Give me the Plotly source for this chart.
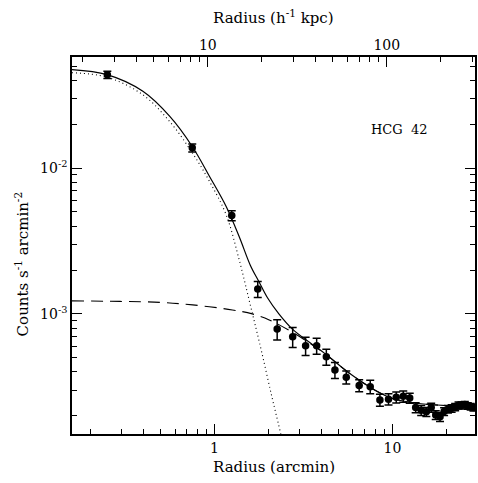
import plotly.graph_objects as go

# ---- data ----
radius_arcmin = [0.25, 0.75, 1.25, 1.75, 2.25, 2.75, 3.25, 3.75, 4.25, 4.75,
                 5.5, 6.5, 7.5, 8.5, 9.5, 10.5, 11.5, 12.5, 13.5, 14.5,
                 15.5, 16.5, 17.5, 18.5, 19.5, 20.5, 21.5, 22.5, 23.5, 24.5,
                 25.5, 26.5, 27.5, 28.5]
counts = [0.0436, 0.01377, 0.00473, 0.00148, 7.88e-4, 6.98e-4, 6.05e-4, 6.05e-4, 5.09e-4, 4.13e-4,
          3.68e-4, 3.23e-4, 3.17e-4, 2.57e-4, 2.60e-4, 2.68e-4, 2.72e-4, 2.65e-4, 2.28e-4, 2.18e-4,
          2.13e-4, 2.28e-4, 2.03e-4, 1.97e-4, 2.14e-4, 2.22e-4, 2.25e-4, 2.30e-4, 2.36e-4, 2.36e-4,
          2.39e-4, 2.34e-4, 2.31e-4, 2.28e-4]
counts_err = [0.0025, 0.00087, 0.00037, 1.86e-4, 1.25e-4, 1.10e-4, 8.6e-5, 7.6e-5, 6.4e-5, 5.2e-5,
              3.8e-5, 3.1e-5, 3.4e-5, 2.4e-5, 2.3e-5, 2.3e-5, 2.4e-5, 2.1e-5, 1.8e-5, 1.7e-5,
              1.5e-5, 1.6e-5, 1.4e-5, 1.4e-5, 1.3e-5, 1.3e-5, 1.3e-5, 1.3e-5, 1.3e-5, 1.3e-5,
              1.2e-5, 1.2e-5, 1.2e-5, 1.2e-5]

# total model (solid)
total_r = [0.158, 0.249, 0.396, 0.561, 0.750, 0.938, 1.163, 1.379, 1.589, 1.784, 1.985,
           2.3, 2.73, 3.5, 4.21, 5.68, 8.17, 10.0, 13.97, 20.55, 29.5]
total_y = [0.0473, 0.0437, 0.0336, 0.0226, 0.01406, 0.00876, 0.00545, 0.00337, 0.00216, 0.00165, 0.00129,
           1.0e-3, 7.9e-4, 6.25e-4, 5.3e-4, 3.95e-4, 2.95e-4, 2.63e-4, 2.43e-4, 2.35e-4, 2.33e-4]

# central component (dotted)
core_r = [0.158, 0.249, 0.396, 0.561, 0.750, 0.938, 1.163, 1.379, 1.589, 1.830, 2.109, 2.358, 2.45]
core_y = [0.0451, 0.0420, 0.0318, 0.0208, 0.01274, 0.0081, 0.00478, 0.00233, 0.001153, 5.66e-4,
          2.65e-4, 1.50e-4, 1.2e-4]

# extended component (dashed)
ext_r = [0.158, 0.2946, 0.493, 0.754, 1.26, 1.63, 2.03, 2.73, 3.5, 4.21, 5.68, 8.17, 10.0, 13.97, 20.55, 29.5]
ext_y = [1.228e-3, 1.218e-3, 1.20e-3, 1.153e-3, 1.065e-3, 1.0e-3, 9.1e-4, 7.5e-4, 6.2e-4, 5.3e-4, 3.95e-4,
         2.95e-4, 2.63e-4, 2.43e-4, 2.35e-4, 2.33e-4]

x_ticks = [1, 10]
x_minor = [0.2, 0.3, 0.4, 0.5, 0.6, 0.7, 0.8, 0.9, 2, 3, 4, 5, 6, 7, 8, 9, 20]
y_ticks = [1e-3, 1e-2]
y_ticklabels = ["10<sup>-3</sup>", "10<sup>-2</sup>"]
y_minor = [2e-4, 3e-4, 4e-4, 5e-4, 6e-4, 7e-4, 8e-4, 9e-4,
           2e-3, 3e-3, 4e-3, 5e-3, 6e-3, 7e-3, 8e-3, 9e-3, 2e-2, 3e-2, 4e-2, 5e-2]
kpc_ticks = [10, 100]
kpc_minor = [2, 3, 4, 5, 6, 7, 8, 9, 20, 30, 40, 50, 60, 70, 80, 90, 200, 300]

FONT = "DejaVu Serif"

fig = go.Figure()
fig.add_trace(go.Scatter(x=ext_r, y=ext_y, mode="lines", line_shape="spline",
                         line=dict(color="black", width=1.1, dash="12px,7px"), hoverinfo="skip"))
fig.add_trace(go.Scatter(x=core_r, y=core_y, mode="lines", line_shape="spline",
                         line=dict(color="black", width=1.1, dash="1px,3px"), hoverinfo="skip"))
fig.add_trace(go.Scatter(x=total_r, y=total_y, mode="lines", line_shape="spline",
                         line=dict(color="black", width=1.2), hoverinfo="skip"))
fig.add_trace(go.Scatter(x=radius_arcmin, y=counts, mode="markers",
                         marker=dict(color="black", size=7.5),
                         error_y=dict(type="data", array=counts_err, color="black",
                                      thickness=1.5, width=4)))
# invisible trace so the top (kpc) axis is drawn
fig.add_trace(go.Scatter(x=[10], y=[1e-2], xaxis="x2", mode="markers",
                         marker=dict(opacity=0), hoverinfo="skip"))

fig.update_layout(
    width=478, height=483,
    margin=dict(l=72, r=1, t=57, b=49),
    paper_bgcolor="white", plot_bgcolor="white",
    showlegend=False,
    font=dict(family=FONT, size=14, color="black"),
    xaxis=dict(type="log", range=[-0.8006, 1.4637],
               tickvals=x_ticks, ticktext=["1", "10"],
               ticks="inside", ticklen=10, tickwidth=1, tickcolor="black",
               minor=dict(tickvals=x_minor, ticks="inside", ticklen=5, tickcolor="black", tickwidth=1),
               showline=True, linecolor="black", linewidth=1.5, mirror=True,
               showgrid=False, zeroline=False, tickfont=dict(size=14)),
    xaxis2=dict(type="log", range=[0.2411, 2.4928], overlaying="x", side="top",
                tickvals=kpc_ticks, ticktext=["10", "100"],
                ticks="inside", ticklen=10, tickwidth=1, tickcolor="black",
                minor=dict(tickvals=kpc_minor, ticks="inside", ticklen=5, tickcolor="black", tickwidth=1),
                showline=True, linecolor="black", linewidth=1.5,
                showgrid=False, zeroline=False, tickfont=dict(size=14)),
    yaxis=dict(type="log", range=[-3.8236, -1.2382],
               tickvals=y_ticks, ticktext=y_ticklabels,
               ticks="inside", ticklen=10, tickwidth=1, tickcolor="black",
               minor=dict(tickvals=y_minor, ticks="inside", ticklen=5, tickcolor="black", tickwidth=1),
               showline=True, linecolor="black", linewidth=1.5, mirror="ticks",
               showgrid=False, zeroline=False, tickfont=dict(size=14)),
    annotations=[
        dict(text="Radius (arcmin)", xref="paper", yref="paper", x=0.5, y=-0.0875,
             xanchor="center", yanchor="middle", showarrow=False, font=dict(size=15)),
        dict(text="Radius (h<sup>-1</sup> kpc)", xref="paper", yref="paper", x=0.5, y=1.107,
             xanchor="center", yanchor="middle", showarrow=False, font=dict(size=15)),
        dict(text="Counts s<sup>-1</sup> arcmin<sup>-2</sup>", xref="paper", yref="paper",
             x=-0.124, y=0.45, textangle=-90, xanchor="center", yanchor="middle",
             showarrow=False, font=dict(size=15)),
        dict(text="HCG  42", xref="paper", yref="paper", x=0.736, y=0.808,
             xanchor="left", yanchor="middle", showarrow=False, font=dict(size=13)),
    ],
)

fig.write_html("out.html", config={"displayModeBar": False},
               post_script="document.body.style.margin='0px';")
